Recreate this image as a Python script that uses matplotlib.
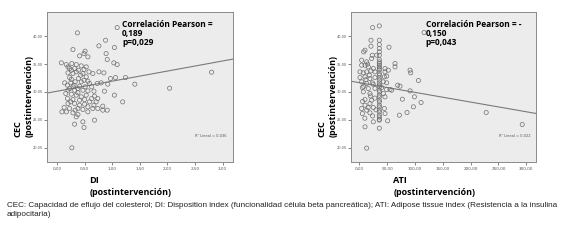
import numpy as np
import matplotlib
matplotlib.use("Agg")
import matplotlib.pyplot as plt

# Datos (CEC vs DI)
di_post = [1.09, 0.37, 0.88, 0.76, 1.04, 0.29, 0.51, 0.49, 0.41, 0.56, 0.89, 0.91,
           0.08, 0.17, 0.27, 0.35, 0.44, 0.53, 1.03, 1.09, 0.23, 0.32, 0.39, 0.49,
           0.58, 0.65, 0.76, 0.85, 0.20, 0.29, 0.47, 0.53, 0.23, 0.39, 0.49, 0.56,
           0.97, 1.06, 1.24, 1.41, 0.14, 0.19, 0.25, 0.31, 0.41, 0.59, 0.73, 0.80,
           0.92, 0.23, 0.32, 0.38, 0.47, 0.56, 0.67, 0.86, 0.16, 0.26, 0.35, 0.44,
           0.68, 0.74, 1.04, 0.19, 0.29, 0.41, 0.50, 0.59, 0.71, 1.19, 0.20, 0.32,
           0.41, 0.56, 0.83, 0.13, 0.23, 0.38, 0.47, 0.65, 0.74, 0.91, 0.09, 0.17,
           0.29, 0.38, 0.56, 0.35, 0.83, 0.68, 0.47, 0.32, 0.49, 0.27, 2.04, 2.80,
           0.20, 0.26, 0.35, 0.43, 0.26, 0.33, 0.44, 0.51, 0.29, 0.20, 0.63, 0.38,
           0.53, 0.63, 0.25, 0.50, 0.67, 0.33]
cec_di = [41.55, 40.60, 39.28, 38.27, 37.97, 37.61, 37.31, 36.89, 36.47, 36.30, 36.89, 35.82,
          35.22, 34.92, 35.10, 34.92, 34.68, 34.50, 35.22, 34.92, 34.21, 34.21, 33.91, 34.03,
          33.61, 33.31, 33.61, 33.43, 33.43, 33.31, 33.31, 32.71, 32.59, 32.41, 32.11, 31.94,
          32.41, 32.59, 32.59, 31.40, 31.64, 31.22, 31.64, 31.22, 31.04, 31.52, 31.52, 31.64,
          31.40, 30.62, 30.32, 30.62, 30.32, 30.20, 30.14, 30.14, 29.73, 29.61, 29.43, 29.13,
          29.25, 28.83, 29.43, 28.83, 28.65, 28.53, 28.65, 28.23, 28.23, 28.23, 27.93, 27.93,
          27.63, 27.34, 27.46, 27.22, 27.04, 27.04, 26.86, 27.04, 27.04, 26.74, 26.44, 26.44,
          26.26, 25.96, 26.44, 25.54, 26.74, 24.95, 24.65, 24.23, 23.63, 19.99, 30.68, 33.55,
          34.50, 33.91, 33.61, 33.01, 32.29, 31.82, 31.82, 30.92, 30.92, 30.32, 30.92, 29.85,
          29.43, 28.83, 28.23, 27.81, 27.63, 26.74]

# Datos (CEC vs ATI)
ati_post = [24.0, 36.0, 116.4, 21.0, 36.0, 36.0, 53.4, 10.3, 7.9, 21.0, 23.4, 31.2,
            36.0, 4.3, 13.3, 22.2, 4.3, 10.3, 16.2, 25.2, 36.0, 36.0, 46.2, 64.2,
            64.2, 1.3, 7.3, 13.3, 21.0, 28.2, 36.0, 46.2, 52.2, 91.2, 92.4, 1.3,
            10.3, 19.2, 28.2, 36.0, 45.0, 49.2, 106.2, 4.3, 13.3, 23.4, 36.0, 43.2,
            49.2, 69.0, 73.2, 5.5, 16.2, 28.2, 36.0, 40.2, 49.2, 55.2, 58.2, 91.2,
            7.3, 19.2, 36.0, 36.0, 43.2, 46.2, 77.4, 99.0, 10.3, 22.2, 36.0, 36.0,
            19.2, 10.3, 111.0, 4.3, 13.3, 25.2, 36.0, 45.0, 97.2, 5.5, 19.2, 36.0,
            46.2, 72.0, 85.8, 227.9, 25.2, 36.0, 51.0, 10.3, 36.0, 13.3, 292.6,
            36.0, 36.0, 36.0, 36.0, 36.0, 36.0, 36.0, 36.0, 36.0, 36.0, 36.0, 36.0,
            36.0, 36.0, 36.0, 36.0, 36.0,
            15.0, 18.0, 12.0, 25.0, 8.0, 20.0, 28.0, 6.0, 16.0, 30.0, 24.0, 10.0]
cec_ati = [41.55, 41.85, 40.66, 39.28, 39.28, 38.51, 38.03, 37.49, 37.19, 38.21, 36.59, 36.59,
           36.59, 35.70, 35.40, 36.00, 34.80, 34.80, 34.50, 34.21, 35.10, 34.50, 34.21, 35.10,
           34.50, 33.61, 33.43, 33.61, 33.79, 33.61, 33.91, 33.61, 33.91, 33.91, 33.43, 32.59,
           32.71, 32.41, 32.59, 33.01, 32.71, 32.83, 32.06, 31.82, 31.52, 31.64, 32.11, 31.82,
           31.64, 31.22, 31.04, 30.80, 30.62, 30.62, 31.22, 30.80, 30.44, 30.44, 30.32, 30.20,
           30.02, 29.73, 30.32, 29.43, 29.73, 29.13, 28.71, 29.13, 28.65, 28.53, 28.53, 27.63,
           27.93, 27.63, 28.11, 27.04, 26.74, 27.22, 26.74, 27.04, 27.34, 26.14, 26.26, 25.84,
           26.14, 25.84, 26.32, 26.32, 24.65, 24.95, 24.83, 23.75, 23.51, 19.93, 24.17,
           37.8, 37.2, 35.8, 35.4, 34.8, 34.2, 33.3, 32.5, 31.6, 30.9, 30.0, 29.1,
           28.2, 27.3, 26.4, 25.5, 25.1,
           35.0, 33.0, 32.2, 31.4, 31.0, 29.3, 28.9, 28.3, 27.2, 26.8, 25.7, 25.3]

# Recta de ajuste (intercepto, pendiente)
fit_di = (30.13, 1.81)
fit_ati = (31.67, -0.0174)

di_ticks = [0.0, 0.5, 1.0, 1.5, 2.0, 2.5, 3.0]
ati_ticks = [0, 50, 100, 150, 200, 250, 300]
cec_ticks = [20, 25, 30, 35, 40]

fig = plt.figure(figsize=(5.72, 2.4), dpi=100)
bold = dict(family="Open Sans", weight="bold", color="black")


def coma(v):
    return f"{v:.2f}".replace(".", ",")


def panel(rect, x, y, fit, xlim, xticks, r_txt, r2_txt, xname):
    ax = fig.add_axes(rect)
    ax.set_facecolor("#ececec")
    ax.scatter(x, y, s=9, facecolors="none", edgecolors="#6e6e6e", linewidths=0.5, zorder=3)
    xs = np.array(xlim)
    ax.plot(xs, fit[0] + fit[1] * xs, color="#7a7a7a", lw=0.8, zorder=2)
    ax.set_xlim(xlim)
    ax.set_ylim(17.4, 44.3)
    ax.set_xticks(xticks)
    ax.set_xticklabels([coma(t) for t in xticks])
    ax.set_yticks(cec_ticks)
    ax.set_yticklabels([coma(t) for t in cec_ticks])
    ax.tick_params(labelsize=3, colors="#555555", length=2, width=0.5, pad=1.5)
    ax.tick_params(axis="y", labelsize=2.5, pad=1)
    for s in ax.spines.values():
        s.set_color("#8a8a8a")
        s.set_linewidth(0.7)
    ax.text(0.405, 0.95, r_txt, transform=ax.transAxes, fontsize=6.0, va="top",
            linespacing=1.05, **bold)
    ax.text(0.80, 0.17, r2_txt, transform=ax.transAxes, fontsize=2.6, color="#555555")
    # etiquetas de ejes
    ax.text(-0.152, 0.17, "CEC", transform=ax.transAxes, rotation=90, fontsize=6.6,
            va="bottom", ha="center", **bold)
    ax.text(-0.097, 0.17, "(postintervención)", transform=ax.transAxes, rotation=90,
            fontsize=6.4, va="bottom", ha="center", **bold)
    ax.text(0.23, -0.12, xname, transform=ax.transAxes, fontsize=6.6, va="center", **bold)
    ax.text(0.23, -0.20, "(postintervención)", transform=ax.transAxes, fontsize=6.4,
            va="center", **bold)
    return ax


panel([0.0816, 0.324, 0.325, 0.625], di_post, cec_di, fit_di, (-0.186, 3.18), di_ticks,
      "Correlación Pearson =\n0,189\np=0,029", "R² Lineal = 0,036", "DI")
panel([0.613, 0.324, 0.324, 0.625], ati_post, cec_ati, fit_ati, (-15.5, 317.3), ati_ticks,
      "Correlación Pearson = -\n0,150\np=0,043", "R² Lineal = 0,022", "ATI")

caption = ("CEC: Capacidad de eflujo del colesterol; DI: Disposition index (funcionalidad célula beta "
           "pancreática); ATI: Adipose tissue index (Resistencia a la insulina\nadipocitaria)")
fig.text(0.012, 0.125, caption, fontsize=5.85, family="Liberation Sans", color="#222222",
         va="center", linespacing=1.3)

fig.savefig("out.png", dpi=100)
